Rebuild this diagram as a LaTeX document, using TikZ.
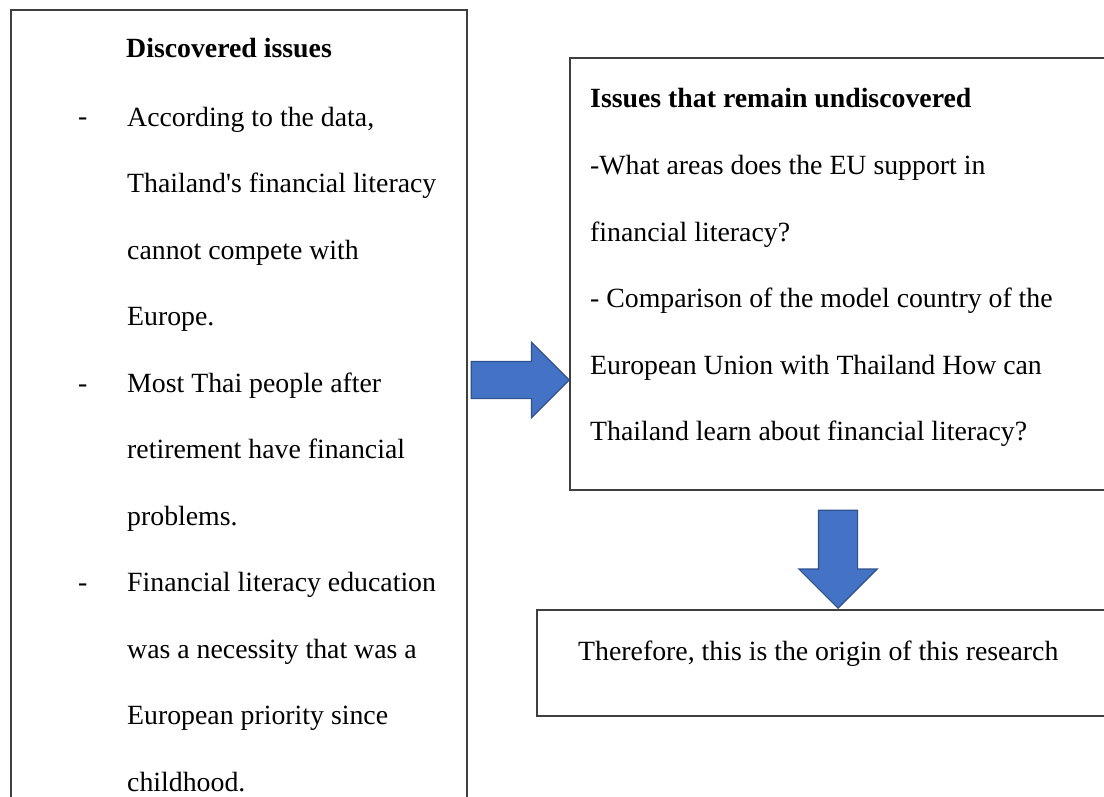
\documentclass[tikz,border=0pt]{standalone}
\usepackage{fontspec}
\setmainfont{Liberation Serif}
\usetikzlibrary{shapes.arrows}
\definecolor{arrowblue}{HTML}{4472C4}
\definecolor{arrowedge}{HTML}{2F528F}
\definecolor{boxline}{HTML}{3F3F3F}
\tikzset{
  box/.style={draw=boxline, line width=1.6pt, inner sep=0pt, anchor=north west},
  txt/.style={font=\fontsize{27.8}{66.5}\selectfont, align=left, inner sep=0pt, anchor=base west},
  head/.style={txt, font=\fontsize{27.8}{66.5}\selectfont\bfseries},
  blockarrow/.style={single arrow, draw=arrowedge, fill=arrowblue, line width=1.2pt,
    minimum height=98pt, inner sep=18pt, single arrow head extend=19pt, anchor=tip}
}
\begin{document}
\begin{tikzpicture}[x=1pt,y=-1pt]
  \clip (0,0) rectangle (1104,797);
  % boxes
  \node[box, minimum width=456pt, minimum height=820pt] (issues) at (10,9) {};
  \node[box, minimum width=620pt, minimum height=432pt] (open) at (569,57) {};
  \node[box, minimum width=620pt, minimum height=106pt] (origin) at (536,609) {};

  % left box (multi-line nodes sit on their last baseline)
  \node[head] (issuesT) at (126,58) {Discovered issues};
  \node[txt] (d1) at (78,126) {-};
  \node[txt] (i1) at (127,325.5) {According to the data,\\Thailand{\textquotesingle}s financial literacy\\cannot compete with\\Europe.};
  \node[txt] (d2) at (78,392) {-};
  \node[txt] (i2) at (127,525) {Most Thai people after\\retirement have financial\\problems.};
  \node[txt] (d3) at (78,591.5) {-};
  \node[txt] (i3) at (127,791) {Financial literacy education\\was a necessity that was a\\European priority since\\childhood.};

  % right boxes
  \node[head] (openT) at (590,108) {Issues that remain undiscovered};
  \node[txt] (q) at (590,440.5) {-What areas does the EU support in\\financial literacy?\\- Comparison of the model country of the\\European Union with Thailand How can\\Thailand learn about financial literacy?};
  \node[txt] (res) at (578,660) {Therefore, this is the origin of this research};

  % arrows
  \node[blockarrow] (a1) at (570,380) {};
  \node[blockarrow, shape border rotate=270, inner sep=19pt, single arrow head extend=19.5pt] (a2) at (838,609) {};
\end{tikzpicture}
\end{document}
